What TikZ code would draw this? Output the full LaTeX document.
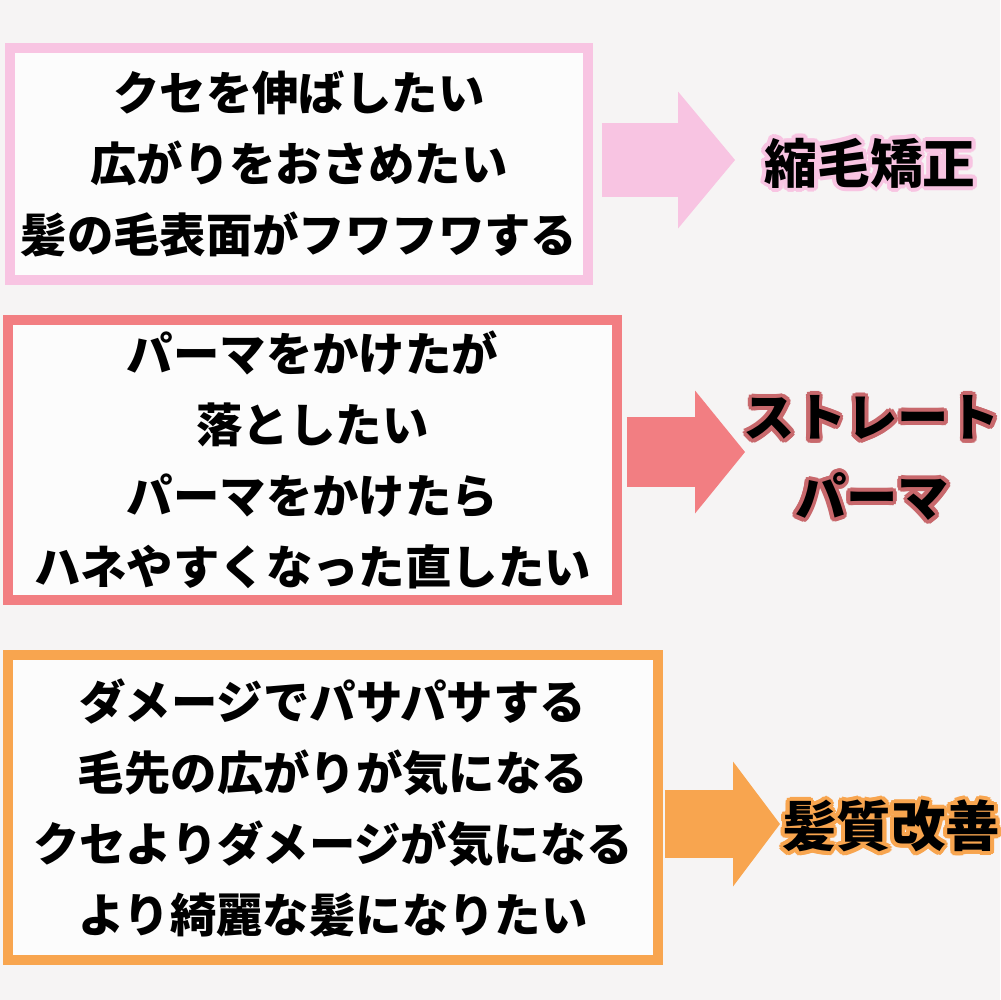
\documentclass[tikz,border=0pt]{standalone}
\usepackage{fontspec}
\setmainfont{Noto Sans CJK JP}
\usepackage[copies]{contour}
\usetikzlibrary{arrows.meta}
\definecolor{bgcol}{HTML}{F6F4F4}
\definecolor{boxfill}{HTML}{FCFCFC}
\definecolor{pinkc}{HTML}{F8C4E2}
\definecolor{redc}{HTML}{F27E82}
\definecolor{orangec}{HTML}{F8A54F}
\definecolor{redglow}{HTML}{C8686C}
\contourlength{1.1pt}

\begin{document}
\begin{tikzpicture}[
  x=0.1mm, y=-0.1mm,
  textbox/.style={rectangle, line width=1mm, fill=boxfill, align=center, inner sep=0pt, font=\fontsize{13.2}{20.2}\selectfont\bfseries},
  result/.style={align=center, inner sep=0pt, font=\fontsize{15}{22.8}\selectfont\bfseries},
  fatarrow/.style={line width=#1}
]
  \useasboundingbox[fill=bgcol] (0,0) rectangle (1000,1000);

  % Box 1
  \node (box1) [textbox, draw=pinkc, minimum width=57.8mm, minimum height=23.2mm] at (299,164)
    {クセを伸ばしたい\\広がりをおさめたい\\髪の毛表面がフワフワする};
  \node (lab1) [result] at (870,165) {\contour{pinkc}{縮毛矯正}};
  \coordinate (tip1) at (735,160);
  \draw [fatarrow=7.4mm, draw=pinkc, shorten <=0.9mm, -{Triangle[length=5.7mm, width=13.7mm, line width=0pt]}] (box1.east |- tip1) -- (tip1);

  % Box 2
  \node (box2) [textbox, draw=redc, minimum width=60.9mm, minimum height=28mm] at (312.5,460)
    {パーマをかけたが\\落としたい\\パーマをかけたら\\ハネやすくなった直したい};
  \node (lab2) [result, font=\fontsize{14.6}{22.8}\selectfont\bfseries] at (872,460) {\contour{redglow}{ストレート}\\\contour{redglow}{パーマ}};
  \coordinate (tip2) at (745,452);
  \draw [fatarrow=7mm, draw=redc, shorten <=0.5mm, -{Triangle[length=5mm, width=12.3mm, line width=0pt]}] (box2.east |- tip2) -- (tip2);

  % Box 3
  \node (box3) [textbox, draw=orangec, minimum width=65mm, minimum height=30.5mm] at (333,807.5)
    {ダメージでパサパサする\\毛先の広がりが気になる\\クセよりダメージが気になる\\より綺麗な髪になりたい};
  \node (lab3) [result, font=\fontsize{15.5}{22.8}\selectfont\bfseries] at (891,828) {\contour{orangec}{髪質改善}};
  \coordinate (tip3) at (780,824);
  \draw [fatarrow=6.8mm, draw=orangec, shorten <=0.2mm, -{Triangle[length=4.7mm, width=12.5mm, line width=0pt]}] (box3.east |- tip3) -- (tip3);

\end{tikzpicture}
\end{document}
